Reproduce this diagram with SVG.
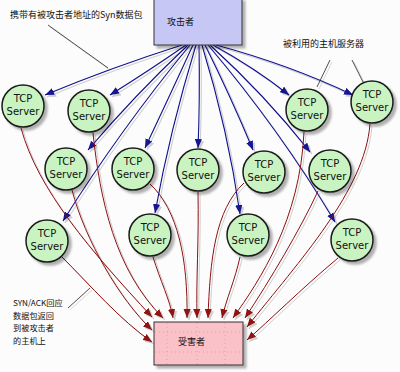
<svg xmlns="http://www.w3.org/2000/svg" width="400" height="372" viewBox="0 0 400 372">
<style>
.srv circle{fill:#c9f4c2;stroke:#1a1a1a;stroke-width:1.5}
.srv text{font-family:"DejaVu Sans",Verdana,sans-serif;font-size:10px;fill:#111;text-anchor:middle}
.lbl{font-family:"Noto Sans CJK SC","Liberation Sans",sans-serif;font-size:9px;fill:#111}
.sm{font-size:8.2px}
.blue{fill:none;stroke:#12128f;stroke-width:1.1;marker-end:url(#ab)}
.red{fill:none;stroke:#8c1212;stroke-width:1;marker-end:url(#ar)}
.lead{fill:none;stroke:#222;stroke-width:0.8}
.grid{stroke:#b99;stroke-width:0.6;stroke-dasharray:1 3}
</style>
<defs>
<filter id="sh" x="-20%" y="-20%" width="150%" height="150%"><feDropShadow dx="3" dy="3" stdDeviation="1" flood-color="#000" flood-opacity="0.3"/></filter>
<filter id="lsh" x="-10%" y="-10%" width="120%" height="120%"><feDropShadow dx="2" dy="2" stdDeviation="0.7" flood-color="#000" flood-opacity="0.18"/></filter>
<marker id="ab" viewBox="0 0 10 8" refX="10" refY="4" markerWidth="9" markerHeight="7.5" markerUnits="userSpaceOnUse" orient="auto"><path d="M0,0 L10,4 L0,8 z" fill="#12128f"/></marker>
<marker id="ar" viewBox="0 0 10 8" refX="10" refY="4" markerWidth="9" markerHeight="7.5" markerUnits="userSpaceOnUse" orient="auto"><path d="M0,0 L10,4 L0,8 z" fill="#8c1212"/></marker>
</defs>
<rect width="400" height="372" fill="#fcfcfc"/>

<g id="connectors" filter="url(#lsh)">
<path class="blue" d="M182,45 Q110,68 45,95"/>
<path class="blue" d="M186,45 Q150,70 110,95"/>
<path class="blue" d="M188,45 Q135,95 88,150"/>
<path class="blue" d="M190,45 Q120,130 63,221"/>
<path class="blue" d="M193,45 Q170,95 145,148"/>
<path class="blue" d="M196,45 Q170,130 155,213"/>
<path class="blue" d="M199,45 Q200,100 198,148"/>
<path class="blue" d="M202,45 Q228,130 240,214"/>
<path class="blue" d="M205,45 Q230,95 253,150"/>
<path class="blue" d="M208,45 Q280,130 335,222"/>
<path class="blue" d="M210,45 Q265,95 310,152"/>
<path class="blue" d="M213,45 Q255,68 289,95"/>
<path class="blue" d="M216,45 Q290,65 353,95"/>

<path class="red" d="M21,128 C38,190 90,250 152,317"/>
<path class="red" d="M72,190 C85,240 120,300 152,330"/>
<path class="red" d="M62,257 C90,285 120,320 152,342"/>
<path class="red" d="M93,133 C100,200 115,270 163,318"/>
<path class="red" d="M153,257 C160,280 170,300 173,318"/>
<path class="red" d="M150,184 C178,210 188,260 187,318"/>
<path class="red" d="M198,192 C199,240 196,280 197,318"/>
<path class="red" d="M244,183 C215,210 210,260 208,318"/>
<path class="red" d="M240,257 C235,280 226,300 222,318"/>
<path class="red" d="M304,132 C300,220 260,280 233,318"/>
<path class="red" d="M318,191 C300,230 270,280 245,318"/>
<path class="red" d="M370,124 C365,190 300,260 247,327"/>
<path class="red" d="M338,258 C300,290 270,320 247,340"/>

<path class="lead" d="M48,25 L108,68"/>
<path class="lead" d="M330,60 L317,87"/>
<path class="lead" d="M352,60 L363,82"/>
<path class="lead" d="M68,308 L90,288"/>
</g>

<g id="attacker">
<rect x="154" y="-2" width="88" height="47" fill="#c7c7f6" stroke="#333" stroke-width="1" filter="url(#sh)"/>
<text class="lbl" x="167" y="25">攻击者</text>
</g>

<g id="victim">
<rect x="154" y="322" width="89" height="43" fill="#fbc1c9" stroke="#333" stroke-width="1" filter="url(#sh)"/>
<path class="grid" d="M167,323 V364 M197,323 V364 M225,323 V364 M155,332 H242 M155,352 H242"/>
<text class="lbl" x="178" y="345">受害者</text>
</g>

<g id="srvA" class="srv"><circle cx="23" cy="106" r="21" filter="url(#sh)"/><text x="23" y="102">TCP</text><text x="23" y="115">Server</text></g>
<g id="srvB" class="srv"><circle cx="89" cy="111" r="21" filter="url(#sh)"/><text x="89" y="107">TCP</text><text x="89" y="120">Server</text></g>
<g id="srvC" class="srv"><circle cx="307" cy="110" r="21" filter="url(#sh)"/><text x="307" y="106">TCP</text><text x="307" y="119">Server</text></g>
<g id="srvD" class="srv"><circle cx="372" cy="102" r="21" filter="url(#sh)"/><text x="372" y="98">TCP</text><text x="372" y="111">Server</text></g>
<g id="srvE" class="srv"><circle cx="66" cy="169" r="21" filter="url(#sh)"/><text x="66" y="165">TCP</text><text x="66" y="178">Server</text></g>
<g id="srvF" class="srv"><circle cx="133" cy="169" r="21" filter="url(#sh)"/><text x="133" y="165">TCP</text><text x="133" y="178">Server</text></g>
<g id="srvG" class="srv"><circle cx="198" cy="170" r="21" filter="url(#sh)"/><text x="198" y="166">TCP</text><text x="198" y="179">Server</text></g>
<g id="srvH" class="srv"><circle cx="264" cy="172" r="21" filter="url(#sh)"/><text x="264" y="168">TCP</text><text x="264" y="181">Server</text></g>
<g id="srvI" class="srv"><circle cx="330" cy="171" r="21" filter="url(#sh)"/><text x="330" y="167">TCP</text><text x="330" y="180">Server</text></g>
<g id="srvJ" class="srv"><circle cx="47" cy="241" r="21" filter="url(#sh)"/><text x="47" y="237">TCP</text><text x="47" y="250">Server</text></g>
<g id="srvK" class="srv"><circle cx="150" cy="235" r="21" filter="url(#sh)"/><text x="150" y="231">TCP</text><text x="150" y="244">Server</text></g>
<g id="srvL" class="srv"><circle cx="248" cy="235" r="21" filter="url(#sh)"/><text x="248" y="231">TCP</text><text x="248" y="244">Server</text></g>
<g id="srvM" class="srv"><circle cx="352" cy="240" r="21" filter="url(#sh)"/><text x="352" y="236">TCP</text><text x="352" y="249">Server</text></g>

<g id="labels">
<text class="lbl" x="10" y="18">携带有被攻击者地址的Syn数据包</text>
<text class="lbl" x="283" y="47">被利用的主机服务器</text>
<text class="lbl sm" x="13" y="306">SYN/ACK回应</text>
<text class="lbl sm" x="13" y="318.5">数据包返回</text>
<text class="lbl sm" x="13" y="331">到被攻击者</text>
<text class="lbl sm" x="13" y="343.5">的主机上</text>
</g>
</svg>
